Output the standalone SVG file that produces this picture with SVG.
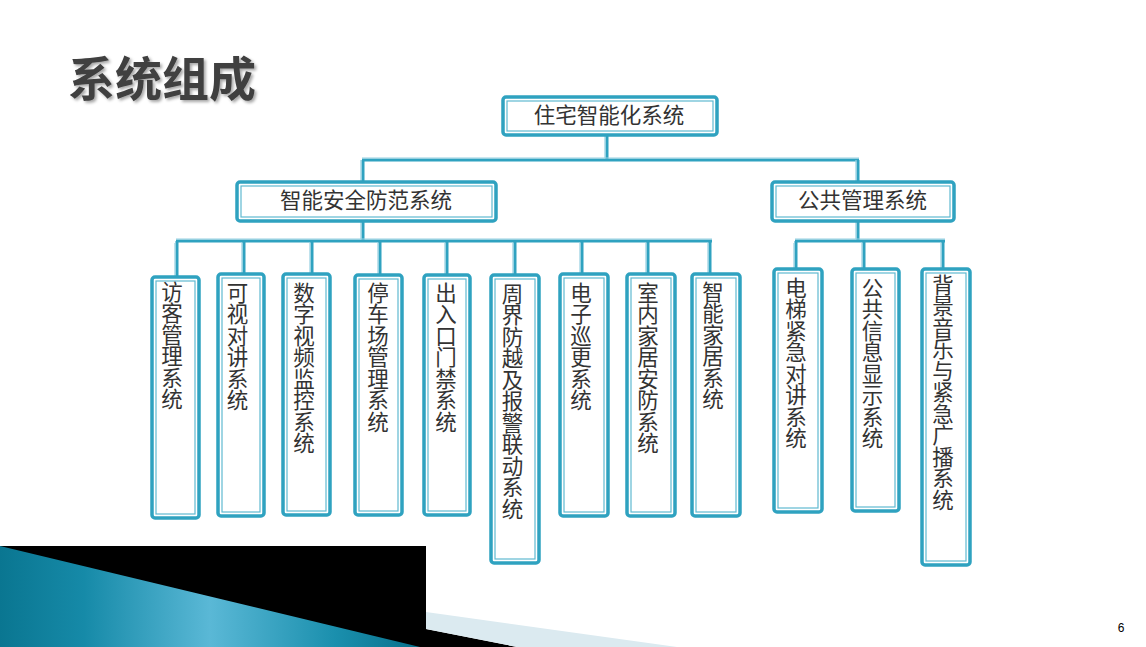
<svg xmlns="http://www.w3.org/2000/svg" width="1146" height="647" viewBox="0 0 1146 647">
<defs>
<style>
.box{fill:#ffffff;stroke:#2fa2c0;stroke-width:3.5}
.inner{fill:none;stroke:#5fb9d1;stroke-width:1.2}
.lbl{font-family:"Noto Sans CJK SC","Noto Sans",sans-serif;font-size:21.5px;fill:#333333}
.h{text-anchor:middle}
.v{writing-mode:vertical-rl;text-anchor:start}
.ln{stroke:#2fa2c0;stroke-width:3;fill:none}
.lnl{stroke:#95d0e1;stroke-width:1.2;fill:none}
</style>
<linearGradient id="teal" x1="0" y1="0" x2="420" y2="0" gradientUnits="userSpaceOnUse">
<stop offset="0" stop-color="#0a7691"/>
<stop offset="0.2" stop-color="#168aa8"/>
<stop offset="0.5" stop-color="#5ab8d6"/>
<stop offset="0.8" stop-color="#1a8fad"/>
<stop offset="1" stop-color="#07708b"/>
</linearGradient>
<filter id="sh" x="-10%" y="-10%" width="120%" height="130%">
<feDropShadow dx="2" dy="2" stdDeviation="1.5" flood-color="#000000" flood-opacity="0.35"/>
</filter>
</defs>
<rect x="0" y="0" width="1146" height="647" fill="#ffffff"/>

<!-- bottom decoration -->
<polygon points="0,546 426,546 426,629 517,647 0,647" fill="#000000"/>
<polygon points="426,612 677,647 517,647 426,629" fill="#dbeaf0"/>
<polygon points="0,546 420,647 0,647" fill="url(#teal)"/>

<text x="68" y="96" font-family="Noto Sans CJK SC, Noto Sans, sans-serif" font-size="47" font-weight="bold" fill="#404040" filter="url(#sh)">系统组成</text>

<text x="1121" y="632" font-family="Liberation Sans, Arial, sans-serif" font-size="12" fill="#000000" text-anchor="middle">6</text>

<g id="connectors">
<path class="ln" d="M607,135 V160 M362,160 H859 M363,160 V182 M858,160 V182 M363,221 V241 M858,221 V241 M176,241 H712 M795,241 H945 M177,241 V277 M244,241 V274 M312,241 V274 M380,241 V275 M447,241 V275 M515,241 V275 M582,241 V274 M648,241 V274 M710,241 V274 M796,241 V269 M864,241 V269 M943,241 V269"/>
<path class="lnl" d="M605,135 V158 M362,158 H859 M361,160 V182 M856,160 V182 M361,221 V239 M856,221 V239 M176,239 H712 M795,239 H945 M175,243 V277 M242,243 V274 M310,243 V274 M378,243 V275 M445,243 V275 M513,243 V275 M580,243 V274 M646,243 V274 M708,243 V274 M794,243 V269 M862,243 V269 M941,243 V269"/>
</g>

<g id="root">
<rect class="box" x="503" y="97" width="214" height="38" rx="3"/>
<rect class="inner" x="507" y="101" width="206" height="30"/>
<text class="lbl h" x="609" y="123">住宅智能化系统</text>
</g>

<g id="security">
<rect class="box" x="237" y="182" width="259" height="39" rx="3"/>
<rect class="inner" x="241" y="186" width="251" height="31"/>
<text class="lbl h" x="366" y="208">智能安全防范系统</text>
</g>

<g id="public">
<rect class="box" x="772" y="182" width="182" height="39" rx="3"/>
<rect class="inner" x="776" y="186" width="174" height="31"/>
<text class="lbl h" x="862.5" y="208">公共管理系统</text>
</g>

<g id="n1">
<rect class="box" x="152" y="277" width="47" height="241" rx="3"/>
<rect class="inner" x="156" y="281" width="39" height="233"/>
<text class="lbl v" x="172" y="281">访客管理系统</text>
</g>
<g id="n2">
<rect class="box" x="218" y="274" width="46" height="242" rx="3"/>
<rect class="inner" x="222" y="278" width="38" height="234"/>
<text class="lbl v" x="237.5" y="282">可视对讲系统</text>
</g>
<g id="n3">
<rect class="box" x="283" y="274" width="47" height="241" rx="3"/>
<rect class="inner" x="287" y="278" width="39" height="233"/>
<text class="lbl v" x="304" y="282">数字视频监控系统</text>
</g>
<g id="n4">
<rect class="box" x="355" y="275" width="47" height="240" rx="3"/>
<rect class="inner" x="359" y="279" width="39" height="232"/>
<text class="lbl v" x="378" y="282">停车场管理系统</text>
</g>
<g id="n5">
<rect class="box" x="424" y="275" width="46" height="240" rx="3"/>
<rect class="inner" x="428" y="279" width="38" height="232"/>
<text class="lbl v" x="446" y="282">出入口门禁系统</text>
</g>
<g id="n6">
<rect class="box" x="491" y="275" width="48" height="288" rx="3"/>
<rect class="inner" x="495" y="279" width="40" height="280"/>
<text class="lbl v" x="512.5" y="283">周界防越及报警联动系统</text>
</g>
<g id="n7">
<rect class="box" x="560" y="274" width="48" height="242" rx="3"/>
<rect class="inner" x="564" y="278" width="40" height="234"/>
<text class="lbl v" x="581" y="282">电子巡更系统</text>
</g>
<g id="n8">
<rect class="box" x="627" y="274" width="48" height="242" rx="3"/>
<rect class="inner" x="631" y="278" width="40" height="234"/>
<text class="lbl v" x="648" y="282">室内家居安防系统</text>
</g>
<g id="n9">
<rect class="box" x="692" y="274" width="48" height="242" rx="3"/>
<rect class="inner" x="696" y="278" width="40" height="234"/>
<text class="lbl v" x="713" y="281">智能家居系统</text>
</g>
<g id="n10">
<rect class="box" x="774" y="269" width="48" height="243" rx="3"/>
<rect class="inner" x="778" y="273" width="40" height="235"/>
<text class="lbl v" x="796" y="277">电梯紧急对讲系统</text>
</g>
<g id="n11">
<rect class="box" x="852" y="269" width="47" height="242" rx="3"/>
<rect class="inner" x="856" y="273" width="39" height="234"/>
<text class="lbl v" x="872.5" y="277">公共信息显示系统</text>
</g>
<g id="n12">
<rect class="box" x="922" y="269" width="48" height="296" rx="3"/>
<rect class="inner" x="926" y="273" width="40" height="288"/>
<text class="lbl v" x="943" y="274">背景音乐与紧急广播系统</text>
</g>
</svg>
